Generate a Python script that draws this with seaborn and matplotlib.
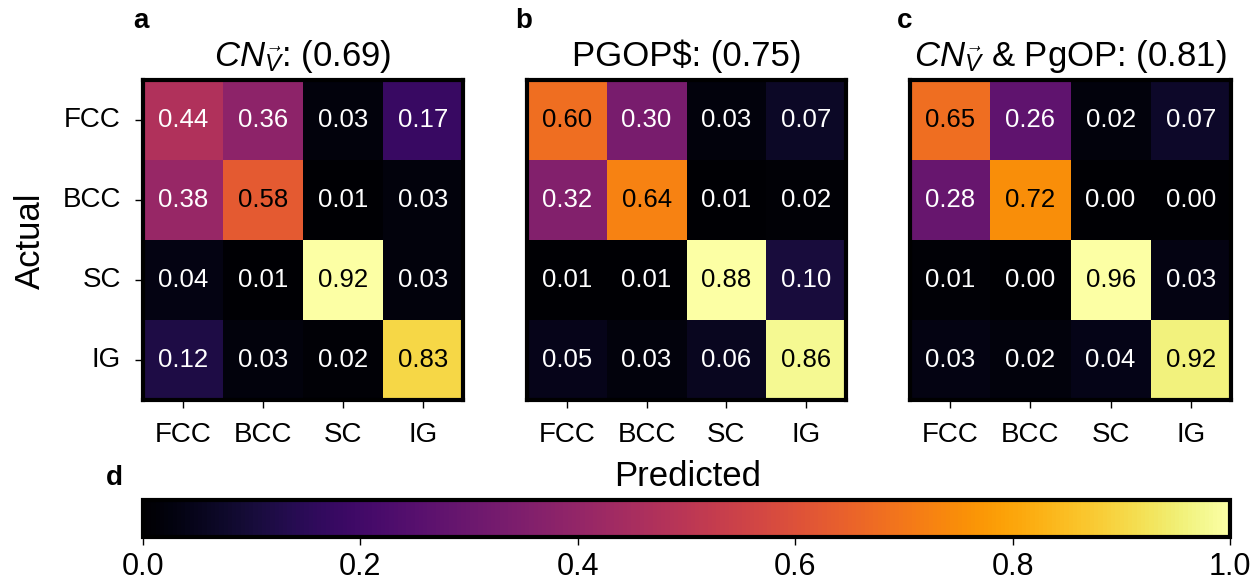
import numpy as np
import matplotlib
matplotlib.use("Agg")
import matplotlib.pyplot as plt
import seaborn as sns

sns.set_style("white")
plt.rcParams["font.family"] = ["Liberation Sans", "DejaVu Sans"]
plt.rcParams["mathtext.fontset"] = "custom"
plt.rcParams["mathtext.rm"] = "Liberation Sans"
plt.rcParams["mathtext.it"] = "Liberation Sans:italic"
plt.rcParams["mathtext.bf"] = "Liberation Sans:bold"
plt.rcParams["text.color"] = "black"
plt.rcParams["xtick.color"] = "black"
plt.rcParams["ytick.color"] = "black"

classes = ["FCC", "BCC", "SC", "IG"]

cm_cn = [[0.44, 0.36, 0.03, 0.17],
         [0.38, 0.58, 0.01, 0.03],
         [0.04, 0.01, 0.92, 0.03],
         [0.12, 0.03, 0.02, 0.83]]

cm_pgop = [[0.60, 0.30, 0.03, 0.07],
           [0.32, 0.64, 0.01, 0.02],
           [0.01, 0.01, 0.88, 0.10],
           [0.05, 0.03, 0.06, 0.86]]

cm_both = [[0.65, 0.26, 0.02, 0.07],
           [0.28, 0.72, 0.00, 0.00],
           [0.01, 0.00, 0.96, 0.03],
           [0.03, 0.02, 0.04, 0.92]]

titles = [r"$CN_{\vec{V}}$: (0.69)", "PGOP\\$: (0.75)", r"$CN_{\vec{V}}$ & PgOP: (0.81)"]
letters = ["a", "b", "c"]
matrices = [cm_cn, cm_pgop, cm_both]
cbar_ticks = [0.0, 0.2, 0.4, 0.6, 0.8, 1.0]

W, H = 1253, 583
fig = plt.figure(figsize=(W / 100, H / 100), dpi=100)


def px_axes(x0, y0, x1, y1):
    return fig.add_axes([x0 / W, 1 - y1 / H, (x1 - x0) / W, (y1 - y0) / H])


panel_px = [(143, 463), (527, 846), (910, 1231)]
letter_x = [133, 515, 897]
for i, (mat, (x0, x1)) in enumerate(zip(matrices, panel_px)):
    ax = px_axes(x0, 80, x1, 400)
    data = np.array(mat)
    # each matrix is coloured on its own range (data min to max)
    sns.heatmap(data, ax=ax, cmap="inferno", cbar=False,
                annot=True, fmt=".2f", annot_kws={"fontsize": 18.5},
                xticklabels=classes, yticklabels=classes if i == 0 else False)
    for t, v in zip(ax.texts, data.ravel()):
        t.set_color("black" if v > 0.5 else "white")
    for sp in ax.spines.values():
        sp.set_visible(True)
        sp.set_linewidth(3)
        sp.set_color("black")
    ax.tick_params(axis="x", bottom=True, length=6, width=1, labelsize=20, pad=10)
    if i == 0:
        ax.tick_params(axis="y", left=True, length=6, width=1, labelsize=20,
                       pad=10, rotation=0)
    else:
        ax.tick_params(axis="y", left=False)
    ax.set_title(titles[i], fontsize=25, pad=10)
    fig.text(letter_x[i] / W, 1 - 28 / H, letters[i], fontsize=20,
             fontweight="bold", ha="left", va="baseline")

fig.text(688 / W, 1 - 477 / H, "Predicted", fontsize=25, ha="center", va="center")
fig.text(30 / W, 1 - 241 / H, "Actual", fontsize=25, ha="center", va="center",
         rotation=90)
fig.text(106 / W, 1 - 485 / H, "d", fontsize=20, fontweight="bold",
         ha="left", va="baseline")

cax = px_axes(143, 500, 1230, 537)
sm = plt.cm.ScalarMappable(cmap="inferno", norm=plt.Normalize(0, 1))
cb = fig.colorbar(sm, cax=cax, orientation="horizontal", ticks=cbar_ticks)
cb.outline.set_linewidth(3)
cb.outline.set_edgecolor("black")
cb.ax.tick_params(labelsize=22, length=6, width=1, pad=5)
cb.ax.set_xticklabels([f"{t:.1f}" for t in cbar_ticks])

fig.savefig("out.png", dpi=100)
